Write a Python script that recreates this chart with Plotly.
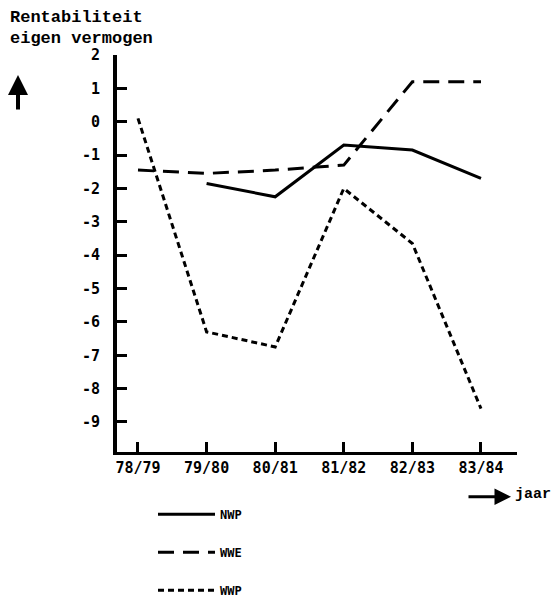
import plotly.graph_objects as go

# ---- data ----
years = ["78/79", "79/80", "80/81", "81/82", "82/83", "83/84"]
nwp = [None, -1.85, -2.25, -0.7, -0.85, -1.7]
wwe = [-1.45, -1.55, -1.45, -1.3, 1.2, 1.2]
wwp = [0.1, -6.3, -6.75, -2.0, -3.65, -8.6]
ytick_vals = [2, 1, 0, -1, -2, -3, -4, -5, -6, -7, -8, -9]
ytick_text = ["2", "1", "0", "-1", "-2", "-3", "-4", "-5", "-6", "-7", "-8", "-9"]

xpos = list(range(len(years)))

fig = go.Figure()
fig.add_trace(go.Scatter(x=xpos, y=nwp, mode="lines", name="NWP", legendgroup="a",
                         line=dict(color="black", width=3)))
fig.add_trace(go.Scatter(x=xpos, y=wwe, mode="lines", name="WWE", legendgroup="b",
                         line=dict(color="black", width=3, dash="16px,9px")))
fig.add_trace(go.Scatter(x=xpos, y=wwp, mode="lines", name="WWP", legendgroup="c",
                         line=dict(color="black", width=3, dash="6px,4px")))

tickfont = dict(family="DejaVu Sans Mono", size=15, color="black", weight="bold")

fig.update_xaxes(
    range=[-0.306, 5.525], tickvals=xpos, ticktext=years,
    showline=True, linecolor="black", linewidth=3, mirror=False,
    ticks="inside", ticklen=10, tickwidth=3, tickcolor="black",
    showgrid=False, zeroline=False, tickfont=tickfont,
)
fig.update_yaxes(
    range=[-9.9, 2.0], tickvals=ytick_vals, ticktext=ytick_text,
    showline=True, linecolor="black", linewidth=4,
    ticks="inside", ticklen=10, tickwidth=3, tickcolor="black",
    showgrid=False, zeroline=False, tickfont=tickfont, ticklabelstandoff=10,
)

titlefont = dict(family="Liberation Mono", size=17, color="black", weight="bold")
fig.add_annotation(text="Rentabiliteit", xref="paper", yref="paper", x=-0.2725, y=1.0957,
                   xanchor="left", yanchor="middle", showarrow=False, font=titlefont)
fig.add_annotation(text="eigen vermogen", xref="paper", yref="paper", x=-0.2725, y=1.0428,
                   xanchor="left", yanchor="middle", showarrow=False, font=titlefont)
# up arrow
fig.add_annotation(text="", xref="paper", yref="paper", x=-0.2475, y=0.9496,
                   axref="pixel", ayref="pixel", ax=0, ay=36, showarrow=True,
                   arrowhead=2, arrowsize=1.0, arrowwidth=4, arrowcolor="black")
# jaar arrow
fig.add_annotation(text="", xref="paper", yref="paper", x=0.985, y=-0.113,
                   axref="pixel", ayref="pixel", ax=-44, ay=0, showarrow=True,
                   arrowhead=2, arrowsize=1.1, arrowwidth=3, arrowcolor="black")
fig.add_annotation(text="jaar", xref="paper", yref="paper", x=0.99, y=-0.108,
                   xanchor="left", yanchor="middle", showarrow=False,
                   font=dict(family="Liberation Mono", size=15, color="black", weight="bold"))

# page body has an 8px margin, so the figure is 8px smaller than the window
fig.update_layout(
    width=552, height=592,
    margin=dict(l=109, r=43, t=47, b=148, autoexpand=False),
    paper_bgcolor="white", plot_bgcolor="white",
    showlegend=True,
    legend=dict(x=0.09, y=-0.12, xanchor="left", yanchor="top",
                font=dict(family="DejaVu Sans Mono", size=12, color="black", weight="bold"),
                itemwidth=57, tracegroupgap=19, bgcolor="rgba(0,0,0,0)"),
)

fig.write_html("out.html")
